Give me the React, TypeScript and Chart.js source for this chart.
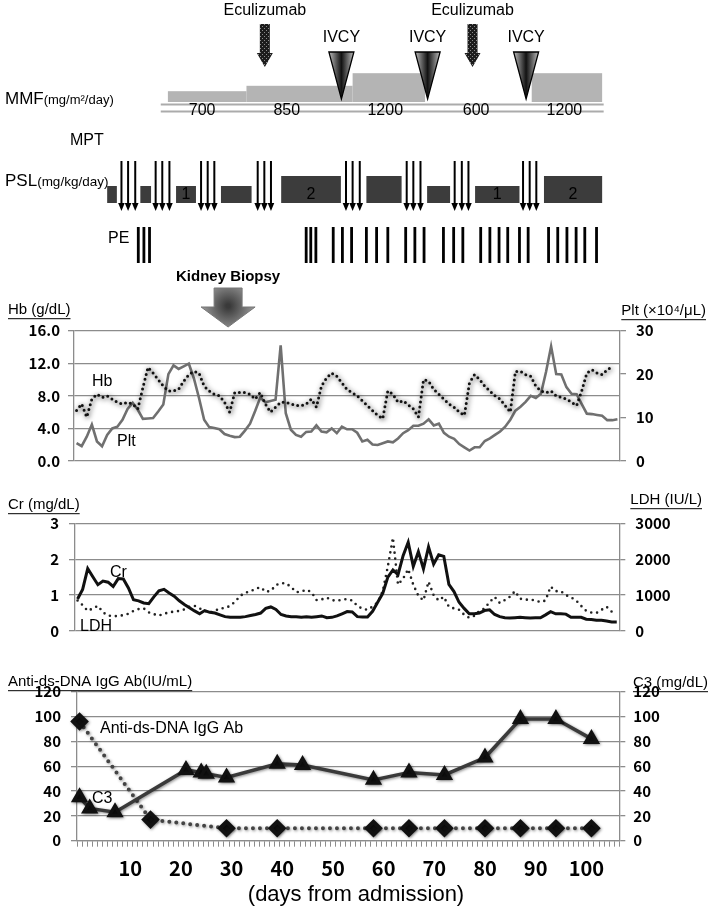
import React, { useEffect, useRef } from 'react';
import { Chart, registerables } from 'chart.js';

Chart.register(...registerables);

const SANS = '"Liberation Sans", Arial, Helvetica, sans-serif';
const TICKF = '"Noto Sans CJK JP", "Noto Sans", sans-serif';
const GRID = '#8c8c8c';

// ---------------- data (daily values, index = day from admission) ----------------
const hbValues = [6.2, 7.0, 5.4, 7.6, 8.2, 7.8, 8.0, 7.6, 7.2, 7.0,
  7.2, 7.0, 6.4, 9.0, 11.5, 10.8, 10.0, 9.2, 8.6, 8.6,
  8.8, 9.8, 10.6, 11.0, 10.8, 9.2, 8.6, 8.2, 8.0, 7.2,
  6.0, 8.4, 8.4, 8.4, 8.2, 7.6, 8.4, 7.0, 6.0, 6.6,
  7.2, 7.2, 7.0, 6.8, 6.8, 7.0, 7.6, 6.6, 9.2, 10.2,
  10.8, 10.4, 9.6, 8.8, 8.4, 8.0, 7.4, 6.8, 6.2, 5.6,
  5.2, 8.6, 8.2, 7.2, 7.4, 6.9, 6.4, 5.4, 10.0, 9.8,
  8.8, 8.2, 7.6, 7.0, 6.6, 6.0, 5.6, 9.6, 10.6, 10.0,
  9.2, 8.6, 8.0, 7.6, 6.8, 6.0, 11.0, 11.0, 10.6, 10.4,
  9.2, 8.6, 8.4, 8.6, 8.0, 7.8, 7.6, 7.2, 6.8, 8.6,
  10.8, 11.2, 10.8, 10.6, 11.2, 11.6];
const pltValues = [4.1, 3.4, 5.6, 8.4, 4.5, 3.4, 6.0, 7.5, 7.9, 9.5,
  12.0, 13.4, 11.8, 9.7, 9.8, 9.9, 11.4, 13.0, 20.0, 22.0,
  21.2, 21.8, 22.4, 19.0, 14.5, 9.5, 7.8, 7.6, 7.3, 6.2,
  5.8, 5.5, 5.6, 7.0, 8.6, 11.5, 14.6, 13.5, 13.8, 14.1,
  26.6, 11.0, 7.2, 6.0, 5.6, 6.7, 6.8, 8.2, 6.8, 6.6,
  7.5, 6.4, 7.9, 7.3, 7.3, 6.5, 4.5, 4.9, 3.8, 3.7,
  4.1, 4.5, 4.3, 5.2, 6.4, 7.1, 8.1, 8.1, 8.6, 9.6,
  8.2, 8.6, 6.5, 5.6, 5.1, 3.9, 3.15, 2.4, 3.15, 3.15,
  4.6, 5.2, 6.0, 6.8, 7.9, 9.5, 11.6, 12.5, 13.6, 15.0,
  14.5, 15.5, 20.5, 26.4, 20.0, 19.9, 17.0, 15.5, 15.4, 13.1,
  10.9, 10.8, 10.6, 10.4, 9.4, 9.4, 9.6];
const crValues = [0.89, 1.16, 1.74, 1.51, 1.29, 1.39, 1.36, 1.24, 1.46, 1.45,
  1.2, 0.87, 0.84, 0.78, 0.76, 0.95, 1.12, 1.16, 1.06, 0.97,
  0.84, 0.74, 0.65, 0.56, 0.48, 0.57, 0.52, 0.5, 0.45, 0.4,
  0.38, 0.38, 0.38, 0.4, 0.43, 0.46, 0.5, 0.63, 0.67, 0.6,
  0.46, 0.42, 0.4, 0.4, 0.38, 0.4, 0.38, 0.4, 0.42, 0.37,
  0.38, 0.42, 0.48, 0.54, 0.53, 0.4, 0.39, 0.39, 0.55, 0.8,
  1.05, 1.5, 1.7, 1.57, 2.1, 2.47, 1.8, 2.21, 1.73, 2.34,
  1.86, 2.12, 2.08, 1.3, 1.1, 0.8, 0.63, 0.48, 0.48, 0.5,
  0.57, 0.59, 0.46, 0.4, 0.37, 0.36, 0.37, 0.38, 0.37, 0.36,
  0.37, 0.37, 0.45, 0.54, 0.48, 0.48, 0.47, 0.38, 0.38, 0.38,
  0.33, 0.32, 0.3, 0.3, 0.28, 0.25, 0.25];
const ldhValues = [850, 720, 560, 630, 700, 520, 430, 410, 420, 440,
  480, 560, 610, 630, 520, 470, 430, 480, 520, 540,
  560, 600, 680, 700, 630, 560, 510, 560, 630, 640,
  700, 820, 980, 1070, 1100, 1180, 1220, 1090, 1120, 1280,
  1330, 1330, 1220, 1080, 1100, 1150, 1080, 860, 880, 930,
  860, 840, 870, 890, 850, 700, 620, 590, 680, 800,
  1110, 1800, 2600, 1290, 1460, 1725, 1290, 980, 850, 1375,
  1000, 850, 955, 675, 630, 590, 455, 370, 420, 560,
  630, 805, 950, 780, 860, 955, 1110, 900, 870, 880,
  850, 805, 850, 1240, 1110, 1110, 1000, 940, 850, 700,
  560, 515, 500, 590, 675, 540];
const dnaDays = [0, 14, 29, 39, 58, 65, 72, 80, 87, 94, 101];
const dnaValues = [96, 17, 10, 10, 10, 10, 10, 10, 10, 10, 10];
const c3Days = [0, 2, 7, 21, 24, 25, 29, 39, 44, 58, 65, 72, 80, 87, 94, 101];
const c3Values = [35, 26, 23, 57, 55, 54, 51, 62, 61, 49, 55, 53, 67, 98, 98, 82];

// x axis
const xTickValues = [10, 20, 30, 40, 50, 60, 70, 80, 90, 100];
const xTickLabels = ['10', '20', '30', '40', '50', '60', '70', '80', '90', '100'];

// ---------------- treatment timeline (in days) ----------------
const eculizumabDays = [36.9, 77.6];
const ivcyDays = [51.9, 68.8, 88.1];
const mmfStart = [17.9, 33.3, 54.1, 68.3, 89.2];
const mmfEnd = [33.3, 54.1, 68.3, 89.2, 103.0];
const mmfDose = [700, 850, 1200, 600, 1200];
const mmfLabelDay = [24.6, 41.2, 60.5, 78.3, 95.6];
const mmfRailStart = 16.5;
const mmfRailEnd = 103.3;
const mptDays = [8.8, 10.1, 11.5, 15.5, 16.8, 18.2, 24.4, 25.7, 27.0, 35.5, 36.8, 38.1,
  52.8, 54.1, 55.5, 64.7, 66.0, 67.4, 74.1, 75.5, 76.8, 87.5, 88.8, 90.1];
const pslStart = [6.0, 12.5, 19.5, 28.3, 40.1, 56.8, 68.7, 78.1, 91.6];
const pslEnd = [7.9, 14.6, 23.4, 34.3, 51.8, 63.7, 73.2, 86.8, 103.0];
const pslDose = [1, 1, 1, 1, 2, 2, 1, 1, 2];
const pslLabel = ['', '', '1', '', '2', '', '', '1', '2'];
const peDays = [12.1, 13.2, 14.3, 45.0, 45.9, 46.9, 50.3, 52.1, 53.9, 56.8, 58.8, 61.0,
  64.5, 66.3, 68.1, 71.9, 73.9, 75.7, 79.2, 81.0, 82.8, 84.5, 86.8, 88.5,
  92.5, 94.3, 96.1, 97.9, 99.6, 101.9];
const biopsyDay = 29.7;

// ---------------- helpers ----------------
type Txt = { t: string; x: number; y: number; size: number; align?: CanvasTextAlign; bold?: boolean; underline?: boolean; family?: string };

function drawTexts(ctx: CanvasRenderingContext2D, items: Txt[]) {
  ctx.save();
  ctx.fillStyle = '#000';
  ctx.strokeStyle = '#000';
  ctx.textBaseline = 'middle';
  for (const it of items) {
    ctx.font = `${it.bold ? 'bold ' : ''}${it.size}px ${it.family || SANS}`;
    ctx.textAlign = it.align || 'left';
    ctx.fillText(it.t, it.x, it.y);
    if (it.underline) {
      const w = ctx.measureText(it.t).width;
      const x0 = it.align === 'right' ? it.x - w : it.align === 'center' ? it.x - w / 2 : it.x;
      ctx.lineWidth = 1;
      ctx.beginPath();
      ctx.moveTo(x0, it.y + it.size * 0.58);
      ctx.lineTo(x0 + w, it.y + it.size * 0.58);
      ctx.stroke();
    }
  }
  ctx.restore();
}

function drawRich(ctx: CanvasRenderingContext2D, x: number, y: number, parts: { t: string; size: number }[]) {
  ctx.save();
  ctx.fillStyle = '#000';
  ctx.textBaseline = 'alphabetic';
  ctx.textAlign = 'left';
  let cx = x;
  for (const p of parts) {
    ctx.font = `${p.size}px ${SANS}`;
    ctx.fillText(p.t, cx, y);
    cx += ctx.measureText(p.t).width;
  }
  ctx.restore();
}

const textPlugin = (items: Txt[]) => ({
  id: 'texts',
  afterDraw(chart: any) { drawTexts(chart.ctx, items); },
});

const shadowPlugin = {
  id: 'dsShadow',
  beforeDatasetDraw(chart: any, args: any) {
    const ds: any = chart.data.datasets[args.index];
    if (ds.shadowBlur) {
      const ctx = chart.ctx;
      ctx.save();
      ctx.shadowColor = ds.shadowColor || 'rgba(0,0,0,0.5)';
      ctx.shadowBlur = ds.shadowBlur;
      ctx.shadowOffsetX = 1;
      ctx.shadowOffsetY = 1;
    }
  },
  afterDatasetDraw(chart: any, args: any) {
    const ds: any = chart.data.datasets[args.index];
    if (ds.shadowBlur) chart.ctx.restore();
  },
};

const timelinePlugin = {
  id: 'timeline',
  afterDraw(chart: any) {
    const ctx: CanvasRenderingContext2D = chart.ctx;
    const xs = chart.scales.x;
    const px = (d: number) => xs.getPixelForValue(d);
    ctx.save();

    // pattern for eculizumab arrows
    const pc = document.createElement('canvas');
    pc.width = 4; pc.height = 4;
    const pg = pc.getContext('2d')!;
    pg.fillStyle = '#1c1c1c'; pg.fillRect(0, 0, 4, 4);
    pg.fillStyle = '#8a8a8a'; pg.fillRect(0, 0, 1, 1); pg.fillRect(2, 2, 1, 1);
    const pattern = ctx.createPattern(pc, 'repeat')!;

    ctx.textAlign = 'center';
    ctx.textBaseline = 'middle';
    ctx.fillStyle = '#000';
    ctx.font = `16px ${SANS}`;
    eculizumabDays.forEach((d) => {
      const x = px(d);
      ctx.fillStyle = '#000';
      ctx.fillText('Eculizumab', x, 11);
      ctx.beginPath();
      ctx.moveTo(x - 5, 24); ctx.lineTo(x + 5, 24); ctx.lineTo(x + 5, 53);
      ctx.lineTo(x + 8, 53); ctx.lineTo(x, 67); ctx.lineTo(x - 8, 53); ctx.lineTo(x - 5, 53);
      ctx.closePath();
      ctx.fillStyle = pattern;
      ctx.fill();
    });

    // MMF blocks
    mmfDose.forEach((dose, i) => {
      if (dose < 700) return;
      const x0 = px(mmfStart[i]);
      const x1 = px(mmfEnd[i]);
      const h = (dose - 400) * 0.036;
      ctx.fillStyle = '#b4b4b4';
      ctx.fillRect(x0, 102 - h, x1 - x0, h);
    });

    // IVCY
    ivcyDays.forEach((d) => {
      const x = px(d);
      ctx.fillStyle = '#000';
      ctx.font = `16px ${SANS}`;
      ctx.fillText('IVCY', x, 38);
      const g = ctx.createLinearGradient(x - 13, 0, x + 13, 0);
      g.addColorStop(0, '#c4c4c4');
      g.addColorStop(0.5, '#111');
      g.addColorStop(1, '#c4c4c4');
      ctx.beginPath();
      ctx.moveTo(x - 12.5, 52); ctx.lineTo(x + 12.5, 52); ctx.lineTo(x, 99); ctx.closePath();
      ctx.fillStyle = g;
      ctx.fill();
      ctx.strokeStyle = '#000';
      ctx.lineWidth = 1.3;
      ctx.stroke();
    });

    // rails
    ctx.strokeStyle = '#ababab';
    ctx.lineWidth = 2;
    [104.5, 111.5].forEach((y) => {
      ctx.beginPath();
      ctx.moveTo(px(mmfRailStart), y);
      ctx.lineTo(px(mmfRailEnd), y);
      ctx.stroke();
    });
    ctx.fillStyle = '#000';
    ctx.font = `16px ${SANS}`;
    mmfDose.forEach((dose, i) => {
      ctx.fillText(String(dose), px(mmfLabelDay[i]), 111);
    });

    // PSL blocks
    pslDose.forEach((dose, i) => {
      const x0 = px(pslStart[i]);
      const x1 = px(pslEnd[i]);
      const top = 203 - (7 + dose * 10);
      ctx.fillStyle = '#3c3c3c';
      ctx.fillRect(x0, top, x1 - x0, 203 - top);
      if (pslLabel[i]) {
        ctx.fillStyle = '#000';
        ctx.font = `16px ${SANS}`;
        ctx.fillText(pslLabel[i], (x0 + x1) / 2, 195);
      }
    });

    // MPT arrows
    mptDays.forEach((d) => {
      const x = px(d);
      ctx.strokeStyle = '#fff';
      ctx.lineWidth = 4;
      ctx.beginPath(); ctx.moveTo(x, 161); ctx.lineTo(x, 204); ctx.stroke();
      ctx.strokeStyle = '#000';
      ctx.lineWidth = 2;
      ctx.beginPath(); ctx.moveTo(x, 161); ctx.lineTo(x, 204); ctx.stroke();
      ctx.beginPath();
      ctx.moveTo(x - 3.3, 203); ctx.lineTo(x + 3.3, 203); ctx.lineTo(x, 211); ctx.closePath();
      ctx.fillStyle = '#000';
      ctx.fill();
    });

    // PE bars
    ctx.fillStyle = '#000';
    peDays.forEach((d) => {
      const x = px(d);
      ctx.fillRect(x - 1.4, 227, 2.8, 36);
    });

    // Kidney biopsy
    const bx = px(biopsyDay);
    ctx.fillStyle = '#000';
    ctx.font = `bold 15px ${SANS}`;
    ctx.fillText('Kidney Biopsy', bx, 277);
    const rg = ctx.createRadialGradient(bx, 306, 2, bx, 306, 30);
    rg.addColorStop(0, '#3a3a3a');
    rg.addColorStop(1, '#a8a8a8');
    ctx.beginPath();
    ctx.moveTo(bx - 14, 288); ctx.lineTo(bx + 14, 288); ctx.lineTo(bx + 14, 307);
    ctx.lineTo(bx + 27, 307); ctx.lineTo(bx, 327); ctx.lineTo(bx - 27, 307); ctx.lineTo(bx - 14, 307);
    ctx.closePath();
    ctx.fillStyle = rg;
    ctx.fill();
    ctx.strokeStyle = '#777';
    ctx.lineWidth = 1;
    ctx.stroke();

    ctx.restore();

    // row labels
    drawRich(ctx, 5, 104, [{ t: 'MMF', size: 17 }, { t: '(mg/m²/day)', size: 13 }]);
    drawRich(ctx, 5, 186, [{ t: 'PSL', size: 17 }, { t: '(mg/kg/day)', size: 13.5 }]);
    drawTexts(ctx, [
      { t: 'MPT', x: 70, y: 141, size: 16 },
      { t: 'PE', x: 108, y: 239, size: 16 },
    ]);
  },
};

function yAxis(pos: 'left' | 'right', min: number, max: number, step: number, fmt: (v: number) => string, width: number, pad: number) {
  return {
    position: pos,
    min,
    max,
    ticks: {
      stepSize: step,
      callback: (v: any) => fmt(Number(v)),
      color: '#000',
      font: { family: TICKF, size: 15, weight: 'bold' },
      padding: pad,
    },
    grid: {
      color: GRID,
      tickColor: GRID,
      lineWidth: 1.3,
      tickLength: 6,
      drawOnChartArea: pos === 'left',
    },
    border: { display: true, color: GRID, width: 1.3 },
    afterFit: (s: any) => { s.width = width; },
  };
}

const allDayTicks = Array.from({ length: 107 }, (_, i) => i);

function xAxis(show: boolean) {
  return {
    type: 'linear',
    min: -0.5,
    max: 106.5,
    display: show,
    afterBuildTicks: (s: any) => { s.ticks = allDayTicks.map((v) => ({ value: v })); },
    ticks: {
      autoSkip: false,
      maxRotation: 0,
      minRotation: 0,
      padding: 10,
      color: '#000',
      font: { family: TICKF, size: 20, weight: 'bold' },
      callback: (v: any) => {
        const k = xTickValues.indexOf(Number(v));
        return k >= 0 ? xTickLabels[k] : '';
      },
    },
    grid: { drawOnChartArea: false, offset: true, tickLength: 6, color: GRID, tickColor: GRID, lineWidth: 1 },
    border: { display: true, color: GRID, width: 1.3 },
    afterFit: (s: any) => { s.height = show ? 72.3 : 0; },
  };
}

const dayPoints = (values: number[]) => values.map((v, i) => ({ x: i, y: v }));
const pairPoints = (days: number[], values: number[]) => days.map((d, i) => ({ x: d, y: values[i] }));

const baseOptions = (padding: any, scales: any) => ({
  responsive: false,
  animation: false,
  devicePixelRatio: 1,
  layout: { padding },
  plugins: { legend: { display: false }, tooltip: { enabled: false } },
  elements: { point: { radius: 0 }, line: { tension: 0 } },
  scales,
});

export default function App() {
  const r1 = useRef<HTMLCanvasElement>(null);
  const r2 = useRef<HTMLCanvasElement>(null);
  const r3 = useRef<HTMLCanvasElement>(null);

  useEffect(() => {
    const c1 = new Chart(r1.current!, {
      type: 'line',
      data: {
        datasets: [
          {
            label: 'Hb', data: dayPoints(hbValues), yAxisID: 'yL', borderColor: '#111', borderWidth: 3,
            borderDash: [0, 5], borderCapStyle: 'round', pointRadius: 0, shadowBlur: 5, shadowColor: 'rgba(0,0,0,0.85)',
          } as any,
          {
            label: 'Plt', data: dayPoints(pltValues), yAxisID: 'yR', borderColor: '#707070', borderWidth: 2.6, pointRadius: 0,
          },
        ],
      },
      options: baseOptions({ top: 330.7, bottom: 16.7, left: 0, right: 0 }, {
        x: xAxis(false),
        yL: yAxis('left', 0, 16, 4, (v) => v.toFixed(1), 74, 8),
        yR: yAxis('right', 0, 30, 10, (v) => String(v), 91, 10),
      }) as any,
      plugins: [shadowPlugin, timelinePlugin, textPlugin([
        { t: 'Hb (g/dL)', x: 8, y: 310, size: 15, underline: true },
        { t: 'Plt (×10⁴/μL)', x: 706, y: 311, size: 15, align: 'right', underline: true },
        { t: 'Hb', x: 92, y: 382, size: 16 },
        { t: 'Plt', x: 117, y: 442, size: 16 },
      ])],
    });

    const c2 = new Chart(r2.current!, {
      type: 'line',
      data: {
        datasets: [
          { label: 'Cr', data: dayPoints(crValues), yAxisID: 'yL', borderColor: '#111', borderWidth: 3, pointRadius: 0 },
          {
            label: 'LDH', data: dayPoints(ldhValues), yAxisID: 'yR', borderColor: '#222', borderWidth: 2.6,
            borderDash: [0, 6], borderCapStyle: 'round', pointRadius: 0,
          },
        ],
      },
      options: baseOptions({ top: 43.3, bottom: 12.7, left: 0, right: 0 }, {
        x: xAxis(false),
        yL: yAxis('left', 0, 3, 1, (v) => String(v), 75, 10),
        yR: yAxis('right', 0, 3000, 1000, (v) => String(v), 91.7, 10),
      }) as any,
      plugins: [textPlugin([
        { t: 'Cr (mg/dL)', x: 8, y: 25, size: 15, underline: true },
        { t: 'LDH (IU/L)', x: 702, y: 20, size: 15, align: 'right', underline: true },
        { t: 'Cr', x: 110, y: 93, size: 16 },
        { t: 'LDH', x: 80, y: 147, size: 16 },
      ])],
    });

    const c3 = new Chart(r3.current!, {
      type: 'line',
      data: {
        datasets: [
          {
            label: 'C3', data: pairPoints(c3Days, c3Values), yAxisID: 'yR', borderColor: '#3a3a3a', borderWidth: 3.5,
            pointStyle: 'triangle', pointRadius: 6.5, pointBackgroundColor: '#111', pointBorderColor: '#111',
            clip: false, shadowBlur: 3, shadowColor: 'rgba(0,0,0,0.45)',
          } as any,
          {
            label: 'Anti-ds-DNA IgG Ab', data: pairPoints(dnaDays, dnaValues), yAxisID: 'yL', borderColor: '#444', borderWidth: 4,
            borderDash: [0, 7], borderCapStyle: 'round', pointStyle: 'rectRot', pointRadius: 6.5,
            pointBackgroundColor: '#111', pointBorderColor: '#111', clip: false, shadowBlur: 3, shadowColor: 'rgba(0,0,0,0.45)',
          } as any,
        ],
      },
      options: baseOptions({ top: 41.7, bottom: 0, left: 0, right: 0 }, {
        x: xAxis(true),
        yL: yAxis('left', 0, 120, 20, (v) => String(v), 77, 10),
        yR: yAxis('right', 0, 120, 20, (v) => String(v), 91.7, 8),
      }) as any,
      plugins: [shadowPlugin, textPlugin([
        { t: 'Anti-ds-DNA IgG Ab(IU/mL)', x: 8, y: 32, size: 15, underline: true },
        { t: 'C3 (mg/dL)', x: 708, y: 33, size: 15, align: 'right', underline: true },
        { t: 'Anti-ds-DNA IgG Ab', x: 100, y: 79, size: 16 },
        { t: 'C3', x: 92, y: 149, size: 16 },
        { t: '(days from admission)', x: 356, y: 245, size: 22, align: 'center' },
      ])],
    });

    return () => { c1.destroy(); c2.destroy(); c3.destroy(); };
  }, []);

  return (
    <div style={{ position: 'absolute', left: 0, top: 0, width: 711, height: 913, background: '#fff' }}>
      <canvas ref={r1} width={711} height={480} style={{ position: 'absolute', left: 0, top: 0 }} />
      <canvas ref={r2} width={711} height={170} style={{ position: 'absolute', left: 0, top: 480 }} />
      <canvas ref={r3} width={711} height={263} style={{ position: 'absolute', left: 0, top: 650 }} />
    </div>
  );
}
